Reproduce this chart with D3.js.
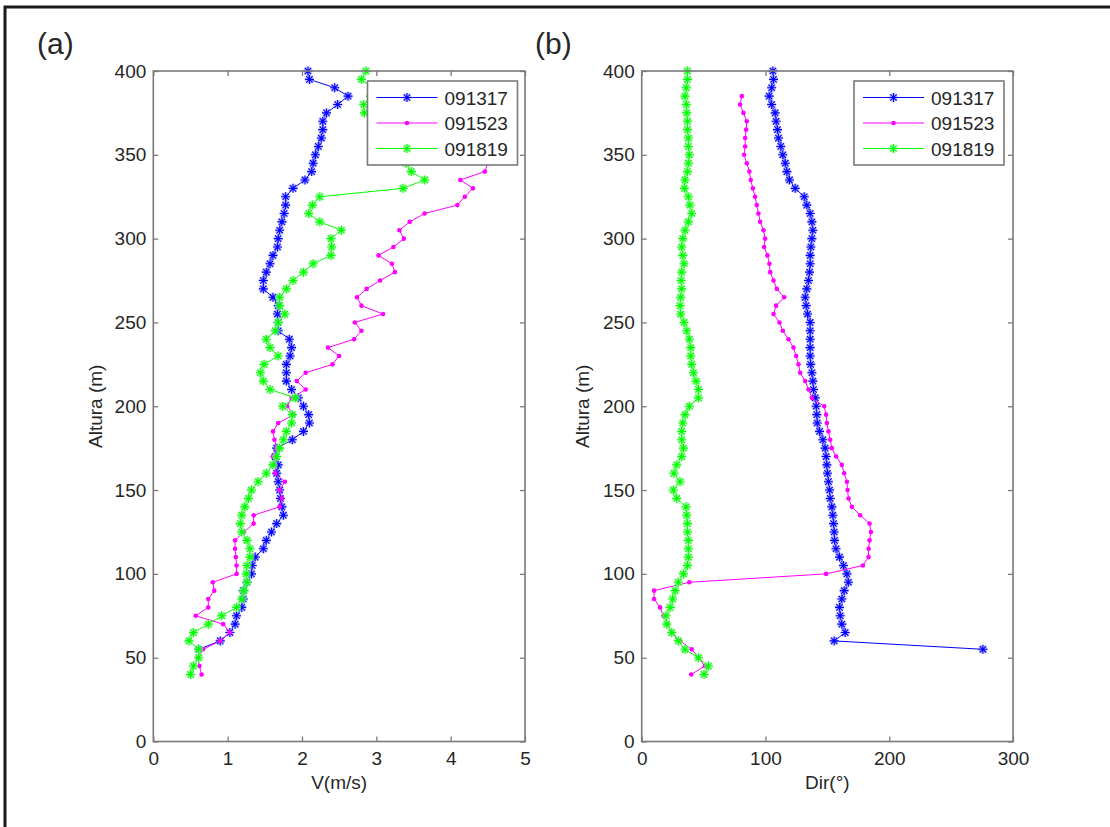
<!DOCTYPE html>
<html>
<head>
<meta charset="utf-8">
<script src="https://cdn.jsdelivr.net/npm/d3@7"></script>
<style>
  body { margin: 0; background: #fff; }
  svg text { font-family: "Liberation Sans", Arial, sans-serif; fill: #262626; }
</style>
</head>
<body>
<svg id="fig" width="1110" height="827"></svg>
<script>
// heights (m), top to bottom, one level every 5 m
const altura = [400, 395, 390, 385, 380, 375, 370, 365, 360, 355, 350, 345, 340, 335, 330, 325, 320, 315, 310, 305,
  300, 295, 290, 285, 280, 275, 270, 265, 260, 255, 250, 245, 240, 235, 230, 225, 220, 215, 210, 205,
  200, 195, 190, 185, 180, 175, 170, 165, 160, 155, 150, 145, 140, 135, 130, 125, 120, 115, 110, 105,
  100, 95, 90, 85, 80, 75, 70, 65, 60, 55, 50, 45, 40];

// (a) wind speed V (m/s)
const vel091317 = [2.08, 2.10, 2.44, 2.62, 2.48, 2.33, 2.28, 2.28, 2.26, 2.22, 2.18, 2.15, 2.13, 2.04, 1.88, 1.78, 1.78, 1.76, 1.73, 1.70,
  1.68, 1.67, 1.61, 1.57, 1.52, 1.48, 1.48, 1.61, 1.68, 1.67, 1.68, 1.68, 1.83, 1.86, 1.84, 1.79, 1.79, 1.79, 1.86, 1.95,
  2.02, 2.09, 2.10, 2.02, 1.87, 1.66, 1.64, 1.68, 1.66, 1.68, 1.70, 1.71, 1.73, 1.75, 1.66, 1.59, 1.52, 1.48, 1.37, 1.33,
  1.32, 1.26, 1.21, 1.21, 1.19, 1.12, 1.10, 1.03, 0.90, 0.61, null, null, null];
const vel091523 = [null, null, null, 3.60, 3.80, 4.00, 4.10, 4.20, 4.30, 4.35, 4.40, 4.50, 4.46, 4.13, 4.30, 4.19, 4.09, 3.65, 3.45, 3.31,
  3.37, 3.23, 3.03, 3.21, 3.25, 3.05, 2.87, 2.74, 2.80, 3.09, 2.71, 2.80, 2.70, 2.35, 2.50, 2.41, 2.05, 1.93, 2.05, 1.86,
  1.80, 1.89, 1.68, 1.61, 1.63, 1.66, 1.61, 1.64, 1.64, 1.77, 1.70, 1.73, 1.70, 1.35, 1.35, 1.22, 1.10, 1.10, 1.11, 1.12,
  1.12, 0.80, 0.82, 0.74, 0.74, 0.57, 0.94, 1.03, 0.90, 0.67, 0.60, 0.62, 0.65];
const vel091819 = [2.86, 2.80, 2.95, 2.92, 2.83, 2.84, 3.00, 3.10, 3.20, 3.30, 3.35, 3.40, 3.47, 3.65, 3.36, 2.24, 2.14, 2.09, 2.24, 2.53,
  2.39, 2.40, 2.39, 2.15, 2.02, 1.88, 1.79, 1.70, 1.70, 1.77, 1.68, 1.64, 1.52, 1.57, 1.68, 1.49, 1.44, 1.48, 1.57, 1.91,
  1.74, 1.87, 1.86, 1.79, 1.75, 1.70, 1.66, 1.61, 1.52, 1.41, 1.32, 1.28, 1.23, 1.19, 1.17, 1.19, 1.26, 1.30, 1.30, 1.26,
  1.25, 1.26, 1.22, 1.19, 1.12, 0.92, 0.74, 0.54, 0.48, 0.61, 0.61, 0.54, 0.50];

// (b) wind direction (deg)
const dir091317 = [106, 106.5, 105, 103, 105, 107.8, 108.6, 109.7, 110.5, 112.4, 114, 116, 117.3, 119.4, 124, 131.3, 133.4, 136.1, 137.5, 138.3,
  137.5, 136.7, 136.1, 136.1, 135.6, 134.8, 133.4, 132.1, 132.9, 134, 136.1, 136.1, 136.1, 136.1, 136.1, 136.5, 137.5, 138.3, 138.8, 140.2,
  141, 141.5, 141.8, 143.7, 146.4, 148.2, 149, 149.6, 150.1, 150.9, 151.8, 152.3, 153.6, 154.4, 155, 155.5, 155.8, 157, 159.8, 163,
  165.8, 167, 163.6, 161.7, 159.8, 160.4, 161.7, 164.4, 155.5, 275.7, null, null, null];
const dir091523 = [null, null, null, 80.9, 79.5, 82.2, 84.9, 84.4, 83.6, 83.6, 82.7, 84.9, 87, 88.1, 89.8, 91.6, 93, 94.3, 95.7, 98.4,
  99.7, 98.9, 101.6, 103.2, 103.8, 106.5, 109.2, 115.1, 108.6, 106.5, 111.3, 114, 118.6, 122.6, 124.8, 126.7, 128, 132.1, 134.8, 137.5,
  147.4, 149, 149.6, 150.9, 152.3, 153.6, 157.1, 161.7, 163.6, 165.8, 166.3, 167.1, 169.8, 176.5, 184.1, 185.2, 184.1, 183.3, 183.3, 178.7,
  149, 38.5, 10, 10, 14.8, 17.5, 20.8, 24.3, 31, 40.4, 46, 51, 40];
const dir091819 = [36.9, 37, 36, 35, 36, 36.4, 37, 37, 37.7, 37.7, 38.5, 37.7, 37, 35, 34.5, 37.7, 39, 40.4, 37.7, 35,
  33.2, 32.3, 33.2, 34.2, 32.3, 31.8, 32.3, 31.5, 31, 31.5, 34.2, 36.4, 38.5, 39.6, 39.6, 40.4, 41.8, 43.9, 45.8, 45.8,
  38.5, 35, 33.2, 32.3, 32.3, 33.7, 32.3, 28.3, 26.1, 31, 25.6, 28.3, 35.8, 36.4, 37, 37, 37.7, 37.7, 37.7, 37,
  33.7, 29.6, 27, 25, 23, 19.7, 20.2, 24.3, 29.6, 35, 45.8, 53.9, 50.4];

const seriesNames = ['091317', '091523', '091819'];
const seriesColors = ['#0000ff', '#ff00ff', '#00ff00'];
const seriesHalo = ['#9a9aff', '#ff9fff', '#9aff9a'];
const seriesMarkers = ['star', 'dot', 'star'];

const svg = d3.select('#fig');
const axisColor = '#7a7a7a';

// outer frame (top + left only, as cropped)
svg.append('path')
  .attr('d', 'M5,827V7H1110')
  .attr('fill', 'none')
  .attr('stroke', '#1a1a1a')
  .attr('stroke-width', 3);

const yScale = d3.scaleLinear().domain([0, 400]).range([741.5, 71]);
const yTicks = [0, 50, 100, 150, 200, 250, 300, 350, 400];

const starPath = 'M-4.5,0H4.5M0,-4.5V4.5M-3.2,-3.2L3.2,3.2M-3.2,3.2L3.2,-3.2';

function drawMarker(g, kind, i)
{
  if (kind === 'star')
  {
    g.append('path').attr('d', starPath).attr('stroke', seriesHalo[i]).attr('stroke-width', 3).attr('opacity', 0.6).attr('fill', 'none');
    g.append('path').attr('d', starPath).attr('stroke', seriesColors[i]).attr('stroke-width', 1.1).attr('fill', 'none');
  } else
  {
    g.append('circle').attr('r', 2.3).attr('fill', seriesColors[i]);
  }
}

function drawPanel(opts)
{
  const x = d3.scaleLinear().domain(opts.xDomain).range(opts.xRange);
  const [x0, x1] = opts.xRange;
  const [yb, yt] = yScale.range();
  const g = svg.append('g');

  // white plot area
  g.append('rect')
    .attr('x', x0).attr('y', yt).attr('width', x1 - x0).attr('height', yb - yt)
    .attr('fill', '#fff');

  // data lines + markers
  opts.data.forEach((vals, i) =>
  {
    const pts = altura.map((h, k) => [vals[k], h]);
    const line = d3.line()
      .defined(d => d[0] !== null)
      .x(d => x(d[0]))
      .y(d => yScale(d[1]));
    g.append('path')
      .attr('d', line(pts))
      .attr('fill', 'none')
      .attr('stroke', seriesColors[i])
      .attr('stroke-width', 1);
    g.append('g').selectAll('g')
      .data(pts.filter(d => d[0] !== null))
      .join('g')
      .attr('transform', d => `translate(${ x(d[0]) },${ yScale(d[1]) })`)
      .each(function () { drawMarker(d3.select(this), seriesMarkers[i], i); });
  });

  // axes with inward ticks on all four sides
  const bottom = g.append('g').attr('transform', `translate(0,${ yb })`)
    .call(d3.axisBottom(x).tickValues(opts.xTicks).tickFormat(d3.format('d')).tickSizeInner(-5).tickSizeOuter(0).tickPadding(10));
  const top = g.append('g').attr('transform', `translate(0,${ yt })`)
    .call(d3.axisTop(x).tickValues(opts.xTicks).tickSizeInner(-5).tickSizeOuter(0).tickFormat(''));
  const left = g.append('g').attr('transform', `translate(${ x0 },0)`)
    .call(d3.axisLeft(yScale).tickValues(yTicks).tickFormat(d3.format('d')).tickSizeInner(-5).tickSizeOuter(0).tickPadding(7));
  const right = g.append('g').attr('transform', `translate(${ x1 },0)`)
    .call(d3.axisRight(yScale).tickValues(yTicks).tickSizeInner(-5).tickSizeOuter(0).tickFormat(''));

  [bottom, top, left, right].forEach(a =>
  {
    a.select('.domain').remove();
    a.selectAll('line').attr('stroke', axisColor).attr('stroke-width', 1.3);
    a.selectAll('text').attr('font-size', 19).attr('fill', '#262626')
      .attr('font-family', '"Liberation Sans", Arial, sans-serif');
  });

  g.append('rect')
    .attr('x', x0).attr('y', yt).attr('width', x1 - x0).attr('height', yb - yt)
    .attr('fill', 'none').attr('stroke', axisColor).attr('stroke-width', 1.6);

  // axis labels
  g.append('text')
    .attr('x', (x0 + x1) / 2).attr('y', 789)
    .attr('text-anchor', 'middle').attr('font-size', 19)
    .text(opts.xLabel);
  g.append('text')
    .attr('transform', `translate(${ opts.yLabelX },${ (yt + yb) / 2 }) rotate(-90)`)
    .attr('text-anchor', 'middle').attr('font-size', 19)
    .text('Altura (m)');

  // legend
  const lg = g.append('g').attr('transform', `translate(${ opts.legendX },81)`);
  lg.append('rect').attr('width', 150).attr('height', 84)
    .attr('fill', '#fff').attr('stroke', axisColor).attr('stroke-width', 1.6);
  seriesNames.forEach((name, i) =>
  {
    const ly = 16.5 + i * 25.5;
    lg.append('line').attr('x1', 9).attr('x2', 70).attr('y1', ly).attr('y2', ly)
      .attr('stroke', seriesColors[i]).attr('stroke-width', 1);
    drawMarker(lg.append('g').attr('transform', `translate(39.5,${ ly })`), seriesMarkers[i], i);
    lg.append('text').attr('x', 77).attr('y', ly + 7).attr('font-size', 19).text(name);
  });

  // panel tag
  svg.append('text')
    .attr('x', opts.tagX).attr('y', 54)
    .attr('font-family', 'Lato, "Open Sans", sans-serif')
    .attr('font-size', 30).attr('fill', '#111')
    .text(opts.tag);
}

drawPanel({
  tag: '(a)', tagX: 37,
  xDomain: [0, 5], xRange: [153.3, 525], xTicks: [0, 1, 2, 3, 4, 5],
  xLabel: 'V(m/s)', yLabelX: 102, legendX: 367.5,
  data: [vel091317, vel091523, vel091819]
});

drawPanel({
  tag: '(b)', tagX: 535,
  xDomain: [0, 300], xRange: [641.7, 1013], xTicks: [0, 100, 200, 300],
  xLabel: 'Dir(°)', yLabelX: 589, legendX: 854,
  data: [dir091317, dir091523, dir091819]
});
</script>
</body>
</html>
